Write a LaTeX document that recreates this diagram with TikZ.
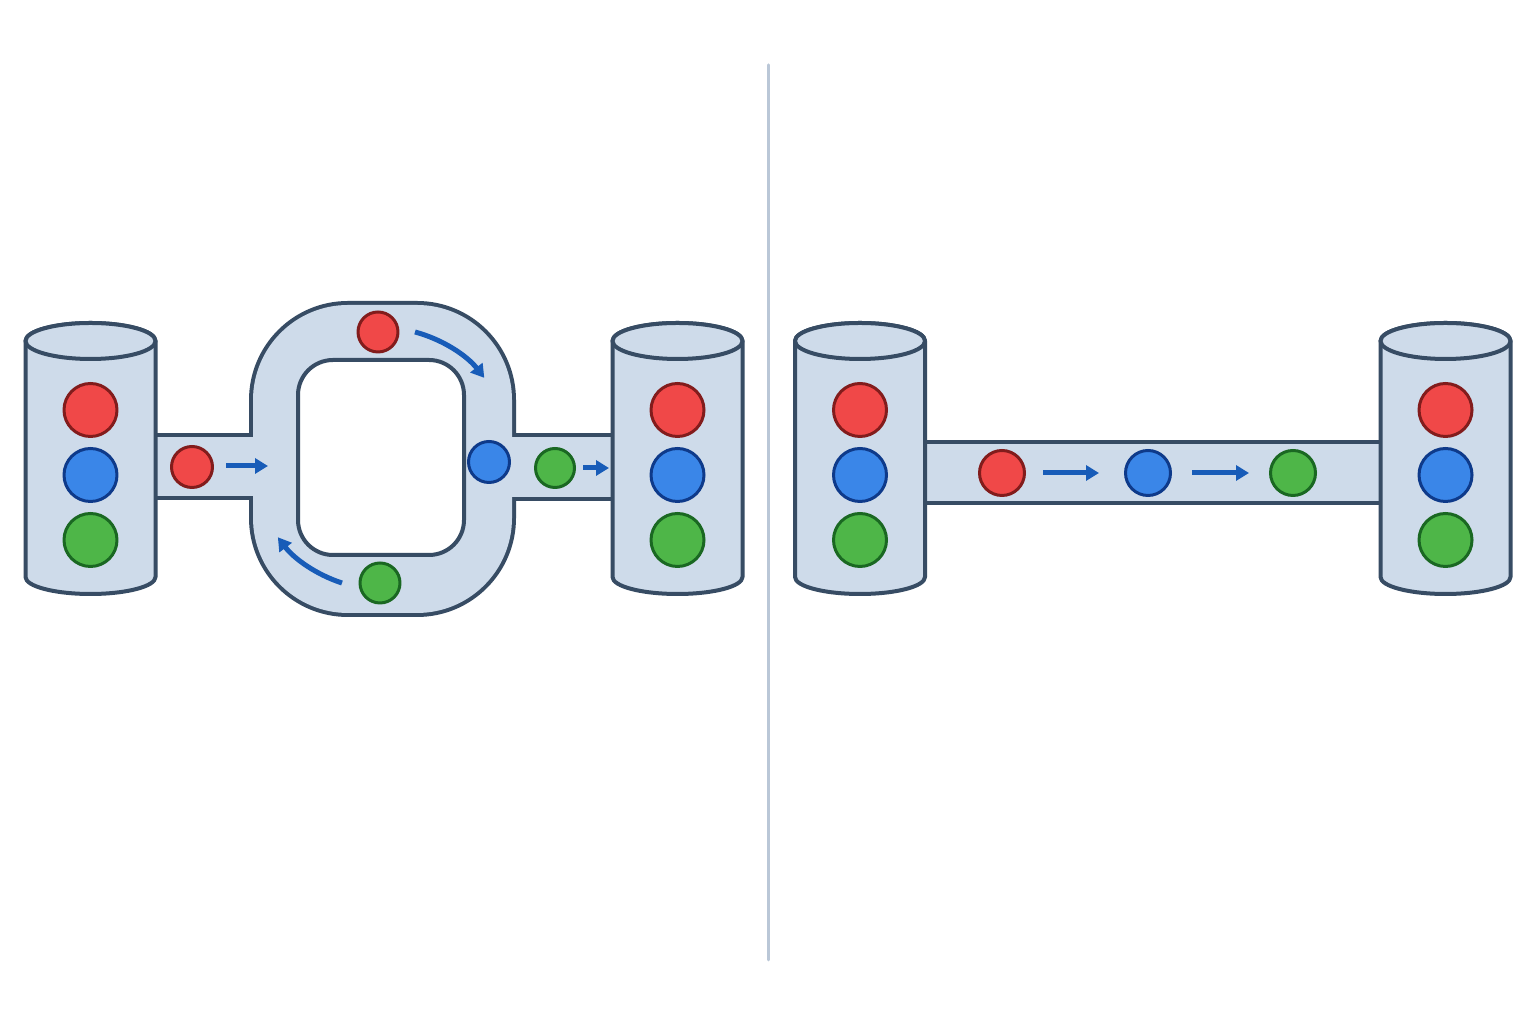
\documentclass[tikz,border=0pt]{standalone}
\usepackage{tikz}
\usetikzlibrary{arrows.meta}
\definecolor{pipefill}{RGB}{206,219,234}
\definecolor{pipeline}{RGB}{55,76,100}
\definecolor{divline}{RGB}{186,199,215}
\definecolor{flowblue}{RGB}{24,92,184}
\definecolor{redfill}{RGB}{240,72,72}
\definecolor{redline}{RGB}{130,28,28}
\definecolor{bluefill}{RGB}{58,134,232}
\definecolor{blueline}{RGB}{14,58,138}
\definecolor{greenfill}{RGB}{78,182,72}
\definecolor{greenline}{RGB}{26,104,34}
\begin{document}
\begin{tikzpicture}[line cap=round,line join=round,x=1pt,y=1pt,
  ball/.style={circle,inner sep=0pt,line width=3pt,minimum size=53pt},
  redball/.style={ball,fill=redfill,draw=redline},
  blueball/.style={ball,fill=bluefill,draw=blueline},
  greenball/.style={ball,fill=greenfill,draw=greenline},
  cyl/.style={fill=pipefill,draw=pipeline,line width=4pt},
  flow/.style={draw=flowblue,line width=5pt,line cap=butt,-{Triangle[length=13pt,width=15pt]}}]
\useasboundingbox [fill=white] (0,0) rectangle (1536,1024);
% divider
\draw [divline,line width=3pt] (768,64) -- (768,959);
% left: ring and pipes (outline of the union, then fill)
\draw [pipeline,line width=8pt,rounded corners=95pt] (253,411) rectangle (512,719);
\draw [pipeline,line width=8pt] (150,528) rectangle (270,587);
\draw [pipeline,line width=8pt] (500,527) rectangle (618,587);
\fill [pipefill,rounded corners=95pt] (253,411) rectangle (512,719);
\fill [pipefill] (150,528) rectangle (270,587);
\fill [pipefill] (500,527) rectangle (618,587);
\draw [pipeline,fill=white,line width=4pt,rounded corners=35pt] (298,469) rectangle (464,664);
% right: straight pipe
\draw [cyl] (918,521) rectangle (1388,582);
% tanks
\foreach \cx/\n in {90.5/a,677.5/b,860/c,1445.5/d} {
  \filldraw [cyl] (\cx-65,683) -- (\cx-65,447) arc[start angle=180,end angle=360,x radius=65,y radius=17]
    -- (\cx+65,683) arc[start angle=0,end angle=180,x radius=65,y radius=18] -- cycle;
  \draw [cyl] (\cx,683) ellipse[x radius=65,y radius=18];
  \node [redball] (\n1) at (\cx,614) {};
  \node [blueball] (\n2) at (\cx,549) {};
  \node [greenball] (\n3) at (\cx,484) {};
}
% balls on the way, left
\node [redball,minimum size=41pt] (inred) at (192,557) {};
\node [redball,minimum size=40pt] (topred) at (378,692) {};
\node [blueball,minimum size=41pt] (ringblue) at (489,562) {};
\node [greenball,minimum size=40pt] (botgreen) at (380,441) {};
\node [greenball,minimum size=39pt] (outgreen) at (555,556) {};
\coordinate (ringin) at (268,558);
\coordinate (tankin) at (609,556);
\draw [flow] (inred) ++(34,1) -- (ringin);
\draw [flow] (outgreen) ++(28,0) -- (tankin);
\draw [flow] (415,692) arc[start angle=75,end angle=38,radius=131];
\draw [flow] (342,441) arc[start angle=252,end angle=217,radius=131];
% balls on the way, right
\node [redball,minimum size=45pt] (r1) at (1002,551) {};
\node [blueball,minimum size=45pt] (r2) at (1148,551) {};
\node [greenball,minimum size=45pt] (r3) at (1293,551) {};
\draw [flow,shorten <=17pt,shorten >=25pt] (r1) -- (r2);
\draw [flow,shorten <=20pt,shorten >=20pt] (r2) -- (r3);
\end{tikzpicture}
\end{document}
